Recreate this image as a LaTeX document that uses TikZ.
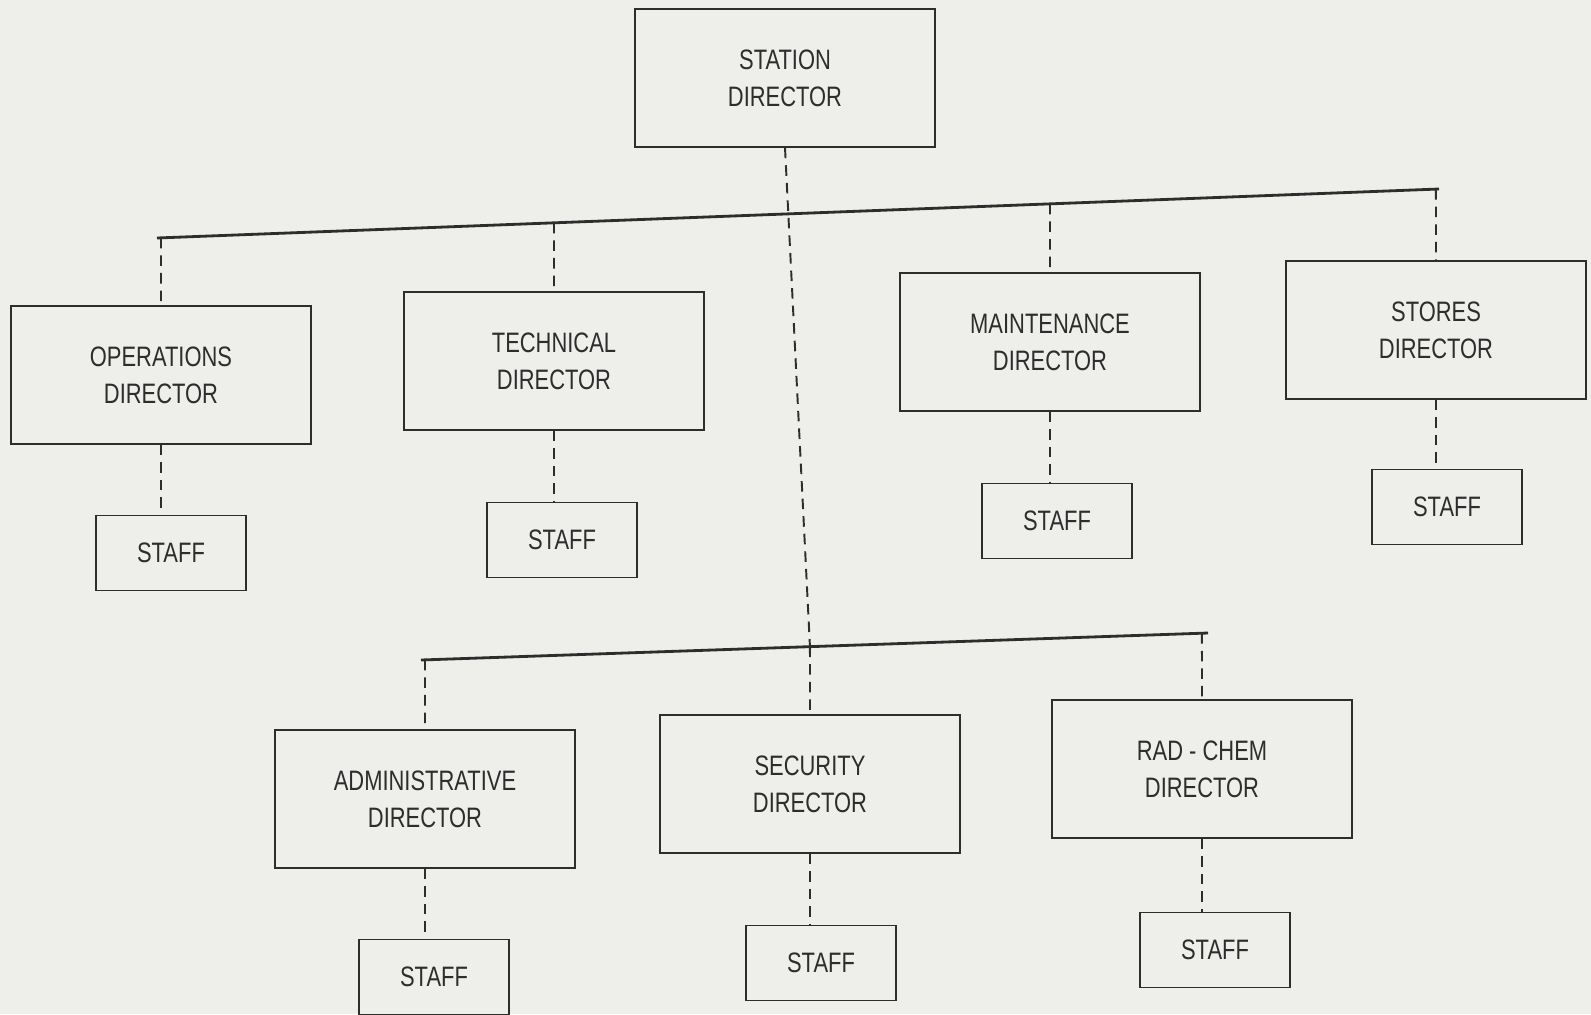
\documentclass[tikz,border=0pt]{standalone}
\usepackage{fontspec}
\setmainfont{Liberation Sans}[FakeStretch=0.78]
\usepackage{tikz}
\usetikzlibrary{positioning, calc}
\definecolor{paper}{RGB}{238,238,235}
\definecolor{ink}{RGB}{45,45,45}

\begin{document}
\begin{tikzpicture}[x=0.02cm, y=-0.02cm,
  director/.style={draw=ink, line width=1.1pt, fill=paper,
                   minimum width=6cm, minimum height=2.75cm,
                   font=\fontsize{16}{21}\selectfont, text=ink, align=center},
  staffbox/.style={draw=ink, line width=1.1pt, fill=paper,
                   minimum width=3cm, minimum height=1.5cm,
                   font=\fontsize{16}{21}\selectfont, text=ink},
  link/.style={draw=ink, line width=1.1pt, dashed, dash pattern=on 6pt off 4pt},
  bar/.style={draw=ink, line width=1.6pt}
]

\fill[paper] (0,0) rectangle (1591,1014);
\useasboundingbox (0,0) rectangle (1591,1014);

% Station director
\node[director] (station) at (785, 78) {STATION\\DIRECTOR};

% First row
\node[director] (ops)    at (161, 375)  {OPERATIONS\\DIRECTOR};
\node[director] (tech)   at (554, 361)  {TECHNICAL\\DIRECTOR};
\node[director] (maint)  at (1050, 342) {MAINTENANCE\\DIRECTOR};
\node[director] (stores) at (1436, 330) {STORES\\DIRECTOR};

\node[staffbox] (opsstaff)    at (171, 553)  {STAFF};
\node[staffbox] (techstaff)   at (562, 540)  {STAFF};
\node[staffbox] (maintstaff)  at (1057, 521) {STAFF};
\node[staffbox] (storesstaff) at (1447, 507) {STAFF};

% Second row
\node[director] (admin) at (425, 799)  {ADMINISTRATIVE\\DIRECTOR};
\node[director] (sec)   at (810, 784)  {SECURITY\\DIRECTOR};
\node[director] (rad)   at (1202, 769) {RAD - CHEM\\DIRECTOR};

\node[staffbox] (adminstaff) at (434, 977)  {STAFF};
\node[staffbox] (secstaff)   at (821, 963)  {STAFF};
\node[staffbox] (radstaff)   at (1215, 950) {STAFF};

% Bars (the sheet sits a little askew)
\coordinate (topl) at (157, 238);
\coordinate (topr) at (1439, 189);
\coordinate (lowl) at (421, 660);
\coordinate (lowr) at (1208, 633);
\draw[bar] (topl) -- (topr);
\draw[bar] (lowl) -- (lowr);

% Trunk
\coordinate (trunktop) at (intersection of topl--topr and station.north--station.south);
\coordinate (trunkend) at (intersection of lowl--lowr and sec.north--sec.south);
\draw[link] (station.south) -- (trunkend);

% Drops to directors
\foreach \d in {ops, tech, maint, stores}
  \draw[link] (intersection of topl--topr and \d.north--\d.south) -- (\d.north);
\foreach \d in {admin, sec, rad}
  \draw[link] (intersection of lowl--lowr and \d.north--\d.south) -- (\d.north);

% Staff
\draw[link] (ops.south) -- (ops.south |- opsstaff.north);
\draw[link] (tech.south) -- (tech.south |- techstaff.north);
\draw[link] (maint.south) -- (maint.south |- maintstaff.north);
\draw[link] (stores.south) -- (stores.south |- storesstaff.north);
\draw[link] (admin.south) -- (admin.south |- adminstaff.north);
\draw[link] (sec.south) -- (sec.south |- secstaff.north);
\draw[link] (rad.south) -- (rad.south |- radstaff.north);

\end{tikzpicture}
\end{document}
